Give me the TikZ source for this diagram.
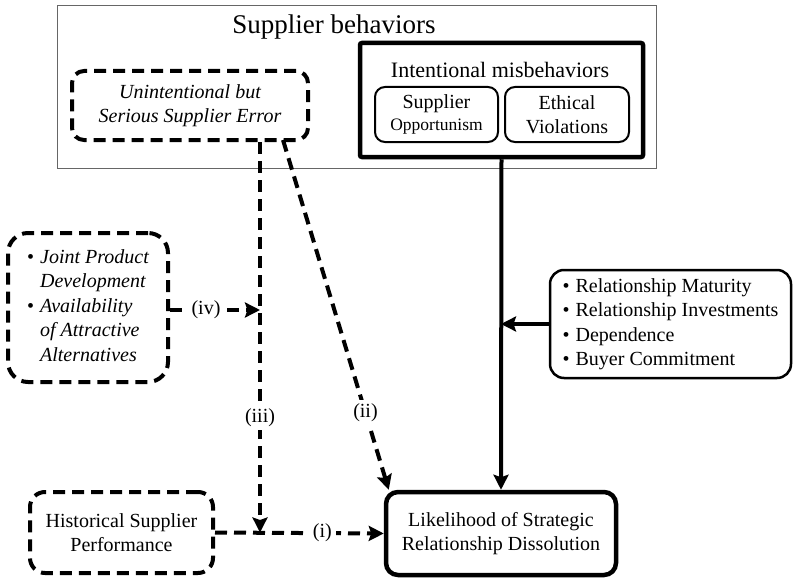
\documentclass[tikz,border=0pt]{standalone}
\usepackage{fontspec}
\setmainfont{Liberation Serif}
\usetikzlibrary{arrows.meta}
\begin{document}
\begin{tikzpicture}[x=1pt,y=-1pt,
  txt/.style={font=\fontsize{20}{24.5}\selectfont, align=center, inner sep=0pt},
  dashbox/.style={draw, line width=4pt, dash pattern=on 12pt off 7pt, rounded corners=#1, txt},
  solidbox/.style={draw, line width=4.5pt, rounded corners=#1, txt},
  thinbox/.style={draw, line width=2pt, rounded corners=#1, txt},
  dashline/.style={line width=4pt, dash pattern=on 12pt off 7pt},
  solidline/.style={line width=4pt},
  arrowtip/.style={-{Stealth[length=15pt,width=15pt,inset=2.5pt]}},
  lab/.style={fill=white, inner sep=4pt, font=\fontsize{20}{24}\selectfont}]
\useasboundingbox (0,0) rectangle (793,578);
\fill[white] (0,0) rectangle (793,578);

% outer group
\node[draw=black!60, line width=1pt, minimum width=599pt, minimum height=162pt, inner sep=0pt] (outer) at (356.5,87) {};
\node[font=\fontsize{27}{31}\selectfont, inner sep=0pt] (title) at (334,27) {Supplier behaviors};

\node[dashbox=12pt, minimum width=236pt, minimum height=69pt, font=\fontsize{20}{24.5}\selectfont\itshape] (unint) at (190,105.5) {Unintentional but\\Serious Supplier Error};

\node[solidbox=2pt, minimum width=283pt, minimum height=114pt] (intent) at (501.5,100) {};
\node[font=\fontsize{22}{26}\selectfont, inner sep=0pt] (ititle) at (500,70) {Intentional misbehaviors};
\node[thinbox=10pt, minimum width=123pt, minimum height=55pt] (opp) at (436.5,114.5) {Supplier\\[-2pt]{\fontsize{17.5}{20}\selectfont Opportunism}};
\node[thinbox=10pt, minimum width=124pt, minimum height=55pt] (eth) at (567,114.5) {Ethical\\Violations};

\node[dashbox=20pt, minimum width=160pt, minimum height=149pt, font=\fontsize{20}{24.5}\selectfont\itshape] (joint) at (88,307.5) {%
\begin{tabular}{@{}l@{\hspace{6pt}}l@{}}
\upshape\textbullet & Joint Product\\
 & Development\\
\upshape\textbullet & Availability\\
 & of Attractive\\
 & Alternatives
\end{tabular}};

\node[thinbox=14pt, line width=2.5pt, minimum width=241pt, minimum height=108pt] (mod) at (670.5,324) {%
\begin{tabular}{@{}l@{\hspace{6pt}}l@{}}
\textbullet & Relationship Maturity\\
\textbullet & Relationship Investments\\
\textbullet & Dependence\\
\textbullet & Buyer Commitment
\end{tabular}};

\node[dashbox=15pt, minimum width=183pt, minimum height=81pt] (hist) at (121.5,532.5) {Historical Supplier\\Performance};
\node[solidbox=12pt, minimum width=230pt, minimum height=83pt] (lik) at (501,533.5) {Likelihood of Strategic\\Relationship Dissolution};

% connectors
\coordinate (jv) at (260,532.5);
\coordinate (jm) at (260,310);
\coordinate (ustart) at (283,140);

\draw[dashline, arrowtip] (unint.south -| jv) -- node[lab, pos=0.705] {(iii)} (jv);
\draw[dashline, arrowtip] (joint.east |- jm) -- node[lab, pos=0.4] {(iv)} (jm);
\draw[dashline, arrowtip] (hist.east) -- node[lab, pos=0.636] {(i)} (lik.west);
\draw[dashline, arrowtip] (ustart) -- node[lab, pos=0.78] {(ii)} ([xshift=5pt]lik.north west);
\draw[solidline, arrowtip] (intent.south) -- (lik.north);
\draw[solidline, arrowtip] (mod.west) -- (mod.west -| lik.north);
\end{tikzpicture}
\end{document}
